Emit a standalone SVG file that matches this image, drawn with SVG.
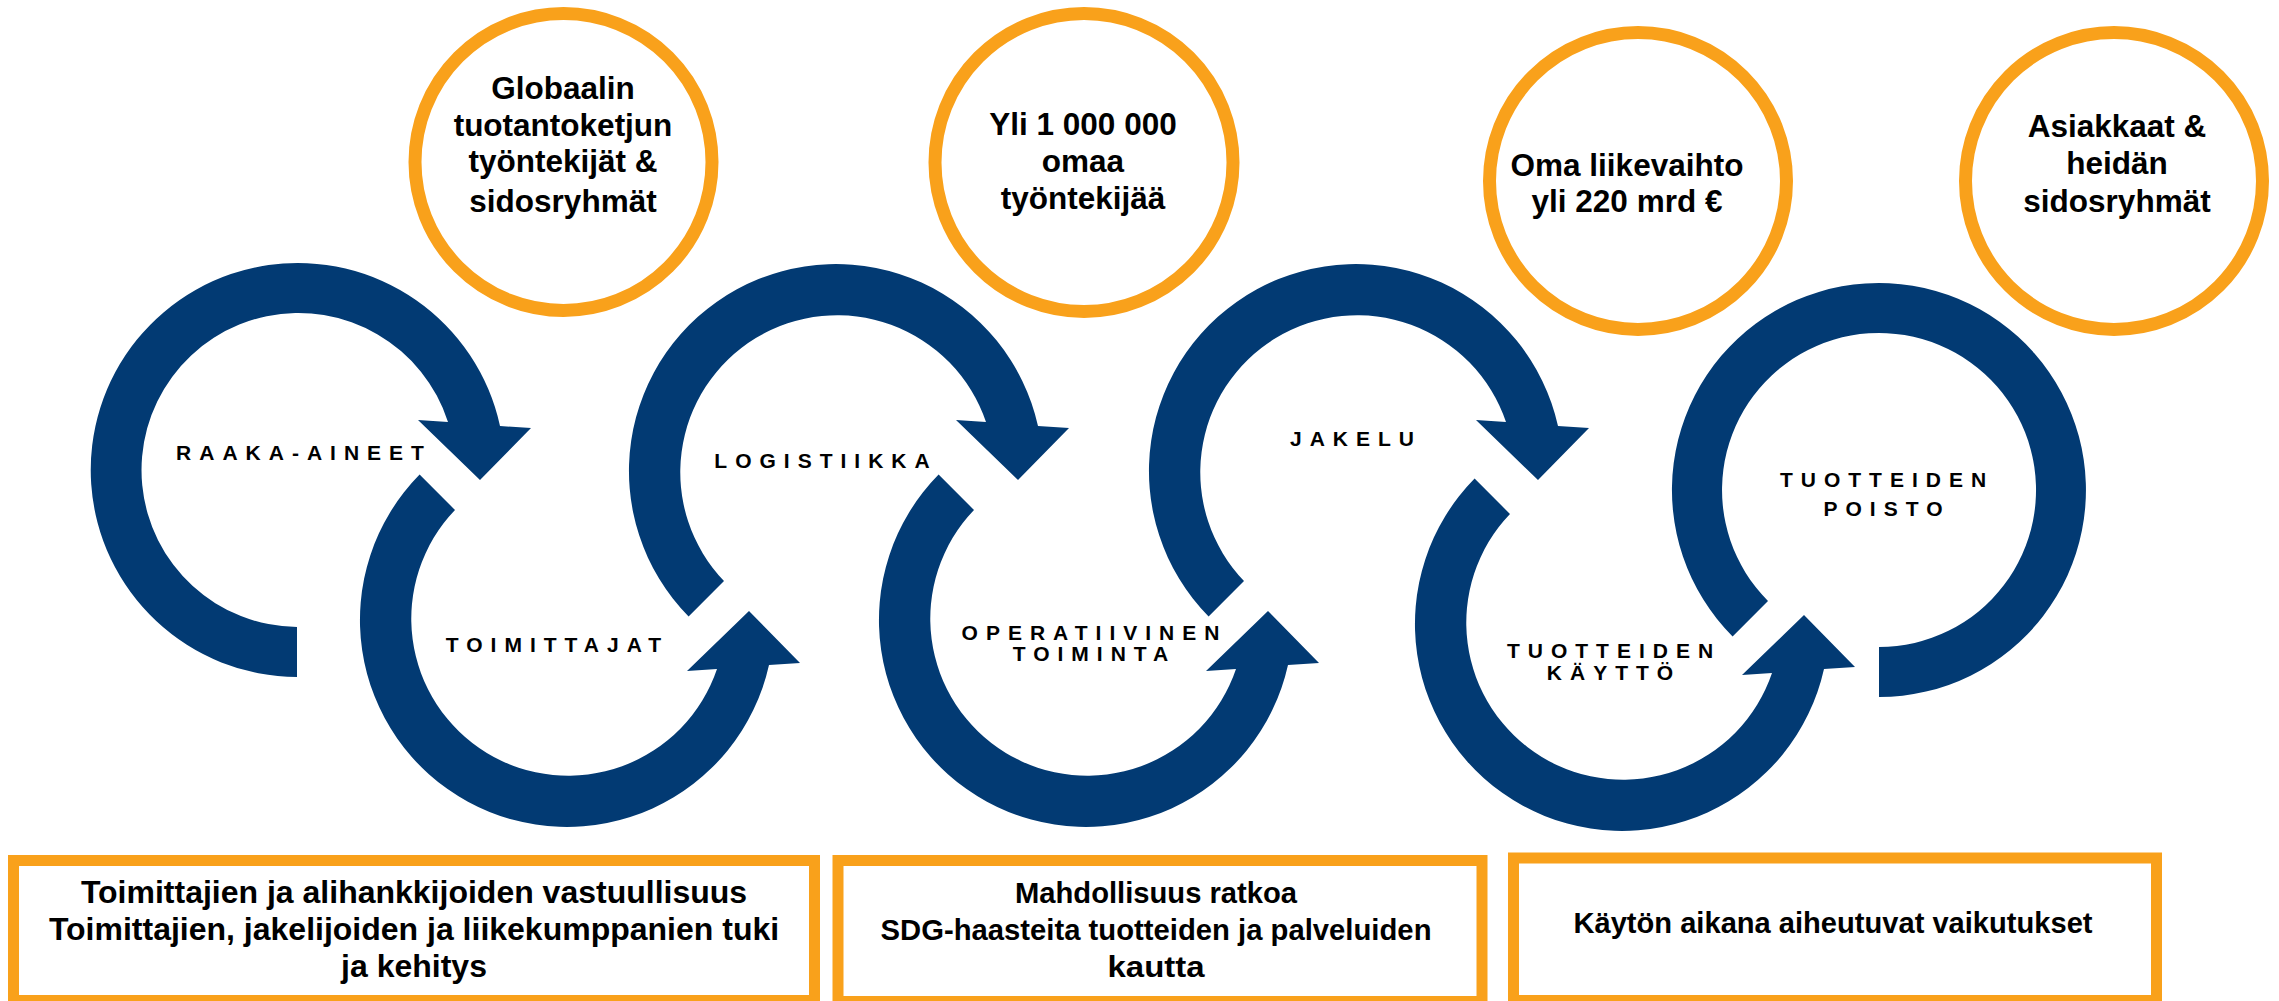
<svg xmlns="http://www.w3.org/2000/svg" width="2279" height="1001" viewBox="0 0 2279 1001">
<style>
.arrow{fill:#023A73}
.ring{fill:none;stroke:#F9A11B;stroke-width:13}
.box{fill:#fff;stroke:#F9A11B;stroke-width:11}
.stage{font-family:"Liberation Sans",Arial,sans-serif;font-weight:bold;font-size:21px;letter-spacing:8px;fill:#000;text-anchor:middle}
.ctext{font-family:"Liberation Sans",Arial,sans-serif;font-weight:bold;font-size:31.5px;fill:#000;text-anchor:middle}
.btext{font-family:"Liberation Sans",Arial,sans-serif;font-weight:bold;font-size:32px;fill:#000;text-anchor:middle}
.btext2{font-family:"Liberation Sans",Arial,sans-serif;font-weight:bold;font-size:30px;fill:#000;text-anchor:middle}
</style>
<defs>
<path id="arrowBottomTail" d="M0,207 A207,207 0 1 1 203,-44 L234,-42 L183,10 L121,-50 L151,-48 A157,157 0 1 0 0,157 Z"/>
<path id="arrowDown" d="M-146.4,146.4 A207,207 0 1 1 203,-44 L234,-42 L183,10 L121,-50 L151,-48 A157,157 0 1 0 -111,111 Z"/>
<path id="arrowUp" d="M-146.4,-146.4 A207,207 0 1 0 203,44 L234,42 L183,-10 L121,50 L151,48 A157,157 0 1 1 -111,-111 Z"/>
<path id="ringEnd" d="M-146.4,146.4 A207,207 0 1 1 0,207 L0,157 A157,157 0 1 0 -111,111 Z"/>
</defs>
<rect x="0" y="0" width="2279" height="1001" fill="#fff"/>

<g id="connectors">
<use href="#arrowBottomTail" class="arrow" transform="translate(297,470)"/>
<use href="#arrowUp" class="arrow" transform="translate(566,621)"/>
<use href="#arrowDown" class="arrow" transform="translate(835,470)"/>
<use href="#arrowUp" class="arrow" transform="translate(1085,621)"/>
<use href="#arrowDown" class="arrow" transform="translate(1355,470)"/>
<use href="#arrowUp" class="arrow" transform="translate(1621,625)"/>
<use href="#ringEnd" class="arrow" transform="translate(1879,490)"/>
</g>

<g id="stage-raaka-aineet"><text class="stage" x="304" y="460">RAAKA-AINEET</text></g>
<g id="stage-toimittajat"><text class="stage" x="557.5" y="652">TOIMITTAJAT</text></g>
<g id="stage-logistiikka"><text class="stage" x="826" y="468">LOGISTIIKKA</text></g>
<g id="stage-operatiivinen"><text class="stage" x="1094.5" y="640">OPERATIIVINEN</text><text class="stage" x="1094.5" y="661">TOIMINTA</text></g>
<g id="stage-jakelu"><text class="stage" x="1356" y="446">JAKELU</text></g>
<g id="stage-kaytto"><text class="stage" x="1614" y="658">TUOTTEIDEN</text><text class="stage" x="1614" y="680">KÄYTTÖ</text></g>
<g id="stage-poisto"><text class="stage" x="1887" y="487">TUOTTEIDEN</text><text class="stage" x="1887" y="516">POISTO</text></g>

<g id="circle-globaalin">
<circle class="ring" cx="563.5" cy="162" r="148.5"/>
<text class="ctext" x="563" y="99">Globaalin</text>
<text class="ctext" x="563" y="135.5">tuotantoketjun</text>
<text class="ctext" x="563" y="172">työntekijät &amp;</text>
<text class="ctext" x="563" y="211.5">sidosryhmät</text>
</g>
<g id="circle-tyontekijat">
<circle class="ring" cx="1084" cy="162.5" r="149"/>
<text class="ctext" x="1083" y="135">Yli 1 000 000</text>
<text class="ctext" x="1083" y="172">omaa</text>
<text class="ctext" x="1083" y="209">työntekijää</text>
</g>
<g id="circle-liikevaihto">
<circle class="ring" cx="1638" cy="181" r="148.5"/>
<text class="ctext" x="1627" y="175.5">Oma liikevaihto</text>
<text class="ctext" x="1627" y="212">yli 220 mrd €</text>
</g>
<g id="circle-asiakkaat">
<circle class="ring" cx="2114" cy="181" r="148.5"/>
<text class="ctext" x="2117" y="137">Asiakkaat &amp;</text>
<text class="ctext" x="2117" y="174">heidän</text>
<text class="ctext" x="2117" y="211.5">sidosryhmät</text>
</g>

<g id="box-toimittajat">
<rect class="box" x="13.5" y="860.5" width="801" height="140"/>
<text class="btext" x="414" y="903">Toimittajien ja alihankkijoiden vastuullisuus</text>
<text class="btext" x="414" y="940">Toimittajien, jakelijoiden ja liikekumppanien tuki</text>
<text class="btext" x="414" y="977">ja kehitys</text>
</g>
<g id="box-sdg">
<rect class="box" x="838" y="860.5" width="644" height="141"/>
<text class="btext2" x="1156" y="903" textLength="282" lengthAdjust="spacingAndGlyphs">Mahdollisuus ratkoa</text>
<text class="btext2" x="1156" y="940" textLength="551" lengthAdjust="spacingAndGlyphs">SDG-haasteita tuotteiden ja palveluiden</text>
<text class="btext2" x="1156" y="977" textLength="97" lengthAdjust="spacingAndGlyphs">kautta</text>
</g>
<g id="box-kaytto">
<rect class="box" x="1513.5" y="858" width="643" height="142.5"/>
<text class="btext2" x="1833" y="933" textLength="519" lengthAdjust="spacingAndGlyphs">Käytön aikana aiheutuvat vaikutukset</text>
</g>
</svg>
